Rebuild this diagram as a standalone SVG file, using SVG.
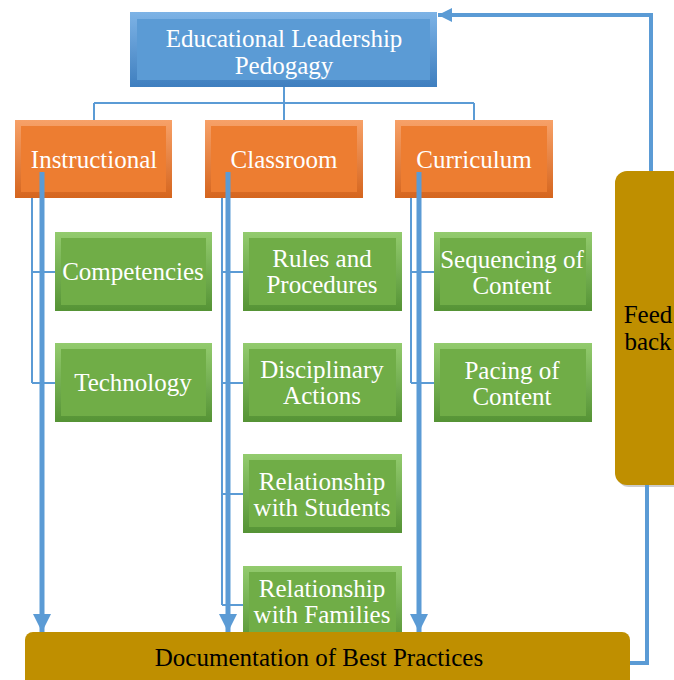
<svg xmlns="http://www.w3.org/2000/svg" width="674" height="680" viewBox="0 0 674 680">
<defs>
<linearGradient id="gBlue" x1="0" y1="0" x2="0" y2="1"><stop offset="0" stop-color="#7DB3E6"/><stop offset="1" stop-color="#3F7FBF"/></linearGradient>
<linearGradient id="gOrange" x1="0" y1="0" x2="0" y2="1"><stop offset="0" stop-color="#F7A168"/><stop offset="1" stop-color="#D5651E"/></linearGradient>
<linearGradient id="gGreen" x1="0" y1="0" x2="0" y2="1"><stop offset="0" stop-color="#93CB6E"/><stop offset="1" stop-color="#559335"/></linearGradient>
<marker id="ah" viewBox="0 0 10 10" refX="10" refY="5" markerWidth="3.6" markerHeight="3.6" markerUnits="strokeWidth" orient="auto"><path d="M0,0 L10,5 L0,10 z" fill="#5B9BD5"/></marker>
<style>
.blueO{fill:url(#gBlue)} .blueI{fill:#5B9BD5}
.orO{fill:url(#gOrange)} .orI{fill:#ED7D31}
.grO{fill:url(#gGreen)} .grI{fill:#70AD47}
.gold{fill:#BF8F00}
.thin{stroke:#5B9BD5;stroke-width:2;fill:none}
.thick{stroke:#5B9BD5;stroke-width:5;fill:none}
.fb{stroke:#5B9BD5;stroke-width:4;fill:none}
</style>
</defs>

<g font-family="Liberation Serif, DejaVu Serif, serif" font-size="25" text-anchor="middle">
<g fill="#fff">
<g id="top">
<rect x="130" y="12" width="307" height="75" class="blueO"/>
<rect x="137" y="19" width="293" height="61" class="blueI"/>
<text x="284" y="47">Educational Leadership</text>
<text x="284" y="74">Pedogagy</text>
</g>

<g id="instructional">
<rect x="15" y="120" width="157" height="78" class="orO"/>
<rect x="21" y="126" width="145" height="66" class="orI"/>
<text x="94" y="168">Instructional</text>
</g>
<g id="classroom">
<rect x="205" y="120" width="158" height="78" class="orO"/>
<rect x="211" y="126" width="146" height="66" class="orI"/>
<text x="284" y="168">Classroom</text>
</g>
<g id="curriculum">
<rect x="395" y="120" width="158" height="78" class="orO"/>
<rect x="401" y="126" width="146" height="66" class="orI"/>
<text x="474" y="168">Curriculum</text>
</g>

<g id="competencies">
<rect x="55" y="232" width="157" height="79" class="grO"/>
<rect x="61" y="238" width="145" height="67" class="grI"/>
<text x="133" y="280">Competencies</text>
</g>
<g id="technology">
<rect x="55" y="343" width="157" height="79" class="grO"/>
<rect x="61" y="349" width="145" height="67" class="grI"/>
<text x="133" y="391">Technology</text>
</g>

<g id="rules">
<rect x="243" y="232" width="159" height="79" class="grO"/>
<rect x="249" y="238" width="147" height="67" class="grI"/>
<text x="322" y="267">Rules and</text>
<text x="322" y="293">Procedures</text>
</g>
<g id="disciplinary">
<rect x="243" y="343" width="159" height="79" class="grO"/>
<rect x="249" y="349" width="147" height="67" class="grI"/>
<text x="322" y="378">Disciplinary</text>
<text x="322" y="404">Actions</text>
</g>
<g id="students">
<rect x="243" y="454" width="159" height="79" class="grO"/>
<rect x="249" y="460" width="147" height="67" class="grI"/>
<text x="322" y="490">Relationship</text>
<text x="322" y="516">with Students</text>
</g>
<g id="families">
<rect x="243" y="566" width="159" height="79" class="grO"/>
<rect x="249" y="572" width="147" height="67" class="grI"/>
<text x="322" y="597">Relationship</text>
<text x="322" y="623">with Families</text>
</g>

<g id="sequencing">
<rect x="434" y="232" width="158" height="79" class="grO"/>
<rect x="440" y="238" width="146" height="67" class="grI"/>
<text x="512" y="268">Sequencing of</text>
<text x="512" y="294">Content</text>
</g>
<g id="pacing">
<rect x="434" y="343" width="158" height="79" class="grO"/>
<rect x="440" y="349" width="146" height="67" class="grI"/>
<text x="512" y="379">Pacing of</text>
<text x="512" y="405">Content</text>
</g>
</g>

<g fill="#000">
<g id="feedback">
<rect x="617" y="173" width="80" height="314" rx="12" fill="#999" opacity="0.5"/>
<rect x="615" y="171" width="80" height="314" rx="12" class="gold"/>
<text x="648" y="323">Feed</text>
<text x="648" y="350">back</text>
</g>

<g id="documentation">
<rect x="25" y="632" width="605" height="56" rx="8" class="gold"/>
<text x="319" y="666">Documentation of Best Practices</text>
</g>
</g>
</g>

<g id="connectors">
<path class="thin" d="M284,87 V103 M94,103 H474 M94,103 V120 M284,103 V120 M474,103 V120"/>
<path class="thin" d="M32,198 V383 M32,272 H55 M32,383 H55"/>
<path class="thin" d="M222,198 V605 M222,272 H243 M222,383 H243 M222,494 H243 M222,605 H243"/>
<path class="thin" d="M411,198 V383 M411,272 H434 M411,383 H434"/>
<line class="thick" x1="42" y1="172" x2="42" y2="632" marker-end="url(#ah)"/>
<line class="thick" x1="228" y1="172" x2="228" y2="632" marker-end="url(#ah)"/>
<line class="thick" x1="419" y1="172" x2="419" y2="632" marker-end="url(#ah)"/>
<path class="fb" d="M630,663 H647 V485"/>
<path class="fb" d="M651,171 V15 H438" marker-end="url(#ah)"/>
</g>
</svg>
